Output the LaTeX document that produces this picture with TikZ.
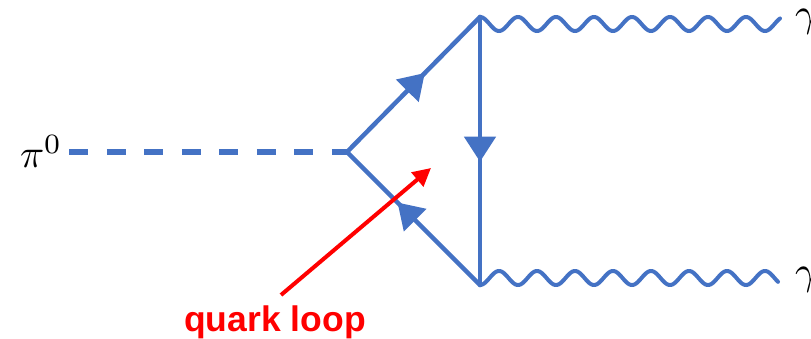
\documentclass[tikz,border=0pt]{standalone}
\usepackage{graphicx}
\usepackage{fontspec}
\newfontfamily\qfont{Liberation Sans}
\usetikzlibrary{arrows.meta,decorations.markings}
\definecolor{fblue}{HTML}{4472C4}
\definecolor{qred}{HTML}{FF0000}
\tikzset{
  fermion/.style={draw=fblue, line width=4.5pt, line cap=round,
    postaction={decorate},
    decoration={markings, mark=at position #1 with {\arrow[fblue]{Triangle[length=25pt,width=31pt]}}}},
  scalar/.style={draw=fblue, line width=6pt, dash pattern=on 19pt off 18.5pt},
  photon/.style={draw=fblue, line width=4pt, line cap=round},
  lbl/.style={inner sep=0pt, outer sep=0pt},
  pointer/.style={draw=qred, line width=4pt, -{Triangle[length=18pt,width=18pt]}},
  qlabel/.style={inner sep=0pt, text=qred, font=\qfont\bfseries\fontsize{35.5}{40}\selectfont}
}
\begin{document}
\begin{tikzpicture}[x=1pt,y=-1pt]
  \useasboundingbox (0,0) rectangle (811,339);
  % vertices
  \coordinate (V) at (347,152);
  \coordinate (T) at (480,17);
  \coordinate (B) at (480,285);
  \coordinate (D) at (69.3,152);
  % labels
  \node[lbl, anchor=base west] (pi) at (20,168) {\scalebox{4}{$\pi^0$}};
  \node[lbl, anchor=base west] (g1) at (795,27) {\scalebox{4}{$\gamma$}};
  \node[lbl, anchor=base west] (g2) at (795,284) {\scalebox{4}{$\gamma$}};
  % pion line
  \draw[scalar] (D) -- (V);
  % quark loop
  \draw[fermion=0.585] (V) -- (T);
  \draw[fermion=0.54] (T) -- (B);
  \draw[fermion=0.62] (B) -- (V);
  % photons
  \draw[photon] plot[domain=0:300, samples=301] ({480+\x},{24-7*cos(9.47368*\x)});
  \draw[photon] plot[domain=0:298, samples=301] ({480+\x},{278+7*cos(9.47368*\x)});
  % annotation
  \node[qlabel, anchor=base] (ql) at (275,331) {quark loop};
  \coordinate (qa) at (281,295);
  \coordinate (qb) at (431,168);
  \draw[pointer] (qa) -- (qb);
\end{tikzpicture}
\end{document}
